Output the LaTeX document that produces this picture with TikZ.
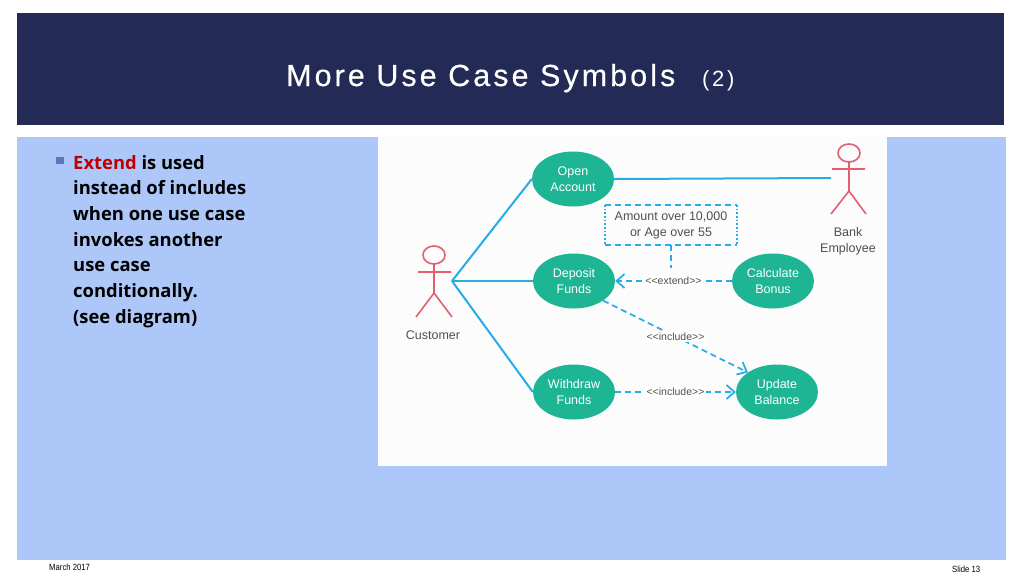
\documentclass[tikz,border=0pt]{standalone}
\usepackage{fontspec}
\setmainfont{Liberation Sans}
\newfontfamily\bodyfont{Open Sans}
\newfontfamily\titlefont{Liberation Sans}[LetterSpace=10, FakeBold=0.4]
\newfontfamily\numberfont{Liberation Sans}[LetterSpace=12]
\usetikzlibrary{arrows.meta, shapes.geometric}
\definecolor{headnavy}{HTML}{222A55}
\definecolor{panelblue}{HTML}{ADC8F8}
\definecolor{casegreen}{HTML}{1DB594}
\definecolor{linkblue}{HTML}{26ACE6}
\definecolor{actorred}{HTML}{E2606E}
\definecolor{notegrey}{HTML}{505050}
\definecolor{extendred}{HTML}{C00000}
\definecolor{bulletblue}{HTML}{5B78BE}
\tikzset{
    usecase/.style={ellipse, fill=casegreen, text=white, minimum width=82pt, minimum height=55pt,
        inner sep=0pt, align=center, font=\fontsize{12.5}{16}\selectfont},
    actorlabel/.style={text=notegrey, align=center, font=\fontsize{12.5}{16}\selectfont},
    stereo/.style={fill=white, text=notegrey, inner sep=1.5pt, font=\fontsize{10.5}{12}\selectfont},
    assoc/.style={draw=linkblue, line width=2pt},
    dep/.style={draw=linkblue, line width=1.7pt, dash pattern=on 6pt off 4pt},
    depto/.style={dep, -{Straight Barb[length=8pt, width=14pt]}},
    stick/.style={draw=actorred, line width=1.6pt},
}
\begin{document}
\begin{tikzpicture}[x=1pt, y=-1pt]
    \useasboundingbox (0,0) rectangle (1024,576);
    % Slide background
    \fill[white] (0,0) rectangle (1024,576);
    \fill[headnavy] (17,13) rectangle (1004,125);
    \fill[panelblue] (17,137) rectangle (1006,560);
    \fill[white!99!black] (378,137) rectangle (887,466);

    % Title and footer
    \node[anchor=base west, text=white, inner sep=0pt, font=\fontsize{30.5}{36}\selectfont\titlefont] (title) at (286,86) {More Use Case Symbols};
    \node[anchor=base west, text=white, inner sep=0pt, font=\fontsize{22}{26}\selectfont\numberfont] (number) at (702,86) {(2)};
    \node[anchor=base west, xscale=0.86, inner sep=0pt, font=\fontsize{9}{11}\selectfont] (date) at (49,570) {March 2017};
    \node[anchor=base west, xscale=0.86, inner sep=0pt, font=\fontsize{9}{11}\selectfont] (slide) at (952,572) {Slide 13};

    % Bullet text
    \fill[bulletblue] (56,157) rectangle (64,164);
    \node[anchor=north west, inner sep=0pt, align=left, font=\fontsize{18.4}{25.7}\selectfont\bodyfont\bfseries] (body) at (73,155)
        {\textcolor{extendred}{Extend} is used\\instead of includes\\when one use case\\invokes another\\use case\\conditionally.\\(see diagram)};

    % Use cases
    \node[usecase] (open) at (573,179) {Open\\Account};
    \node[usecase] (deposit) at (574,281) {Deposit\\Funds};
    \node[usecase] (withdraw) at (574,392) {Withdraw\\Funds};
    \node[usecase] (calculate) at (773,281) {Calculate\\Bonus};
    \node[usecase] (update) at (777,392) {Update\\Balance};

    % Customer
    \coordinate (customer) at (452,281);
    \coordinate (bank) at (831,178);
    \draw[stick] (434,255) ellipse (11pt and 9pt);
    \draw[stick] (434,264) -- (434,293) (418,272) -- (451,272) (416,317) -- (434,293) -- (452,317);
    \node[actorlabel] (customerlabel) at (433,335) {Customer};

    % Bank employee
    \draw[stick] (849,153) ellipse (11pt and 9pt);
    \draw[stick] (849,162) -- (849,191) (832,169) -- (865,169) (831,214) -- (849,191) -- (866,214);
    \node[actorlabel] (banklabel) at (848,241) {Bank\\Employee};

    % Associations
    \draw[assoc] (customer) -- (open.west);
    \draw[assoc] (customer) -- (deposit.west);
    \draw[assoc] (customer) -- (withdraw.west);
    \draw[assoc] (open.east) -- (bank);

    % Note box
    \node[text=notegrey, minimum width=132pt, minimum height=40pt, inner sep=0pt, align=center,
        font=\fontsize{12.5}{16}\selectfont] (note) at (671,225) {Amount over 10,000\\or Age over 55};
    \draw[dep] (note.north west) -- (note.north east);
    \draw[dep] (note.south west) -- (note.south east);
    \draw[linkblue, line width=1.7pt, dotted] (note.north west) -- (note.south west);
    \draw[linkblue, line width=1.7pt, dotted] (note.north east) -- (note.south east);
    \coordinate (noteend) at (671,268);
    \draw[dep] (note.south) -- (noteend);

    % Dependencies
    \draw[depto] (calculate.west) -- node[stereo] (extendlabel) {<{}<extend>{}>} (deposit.east);
    \draw[depto] (deposit.south east) -- node[stereo] (includeone) {<{}<include>{}>} (update.north west);
    \draw[depto] (withdraw.east) -- node[stereo] (includetwo) {<{}<include>{}>} (update.west);
\end{tikzpicture}
\end{document}
